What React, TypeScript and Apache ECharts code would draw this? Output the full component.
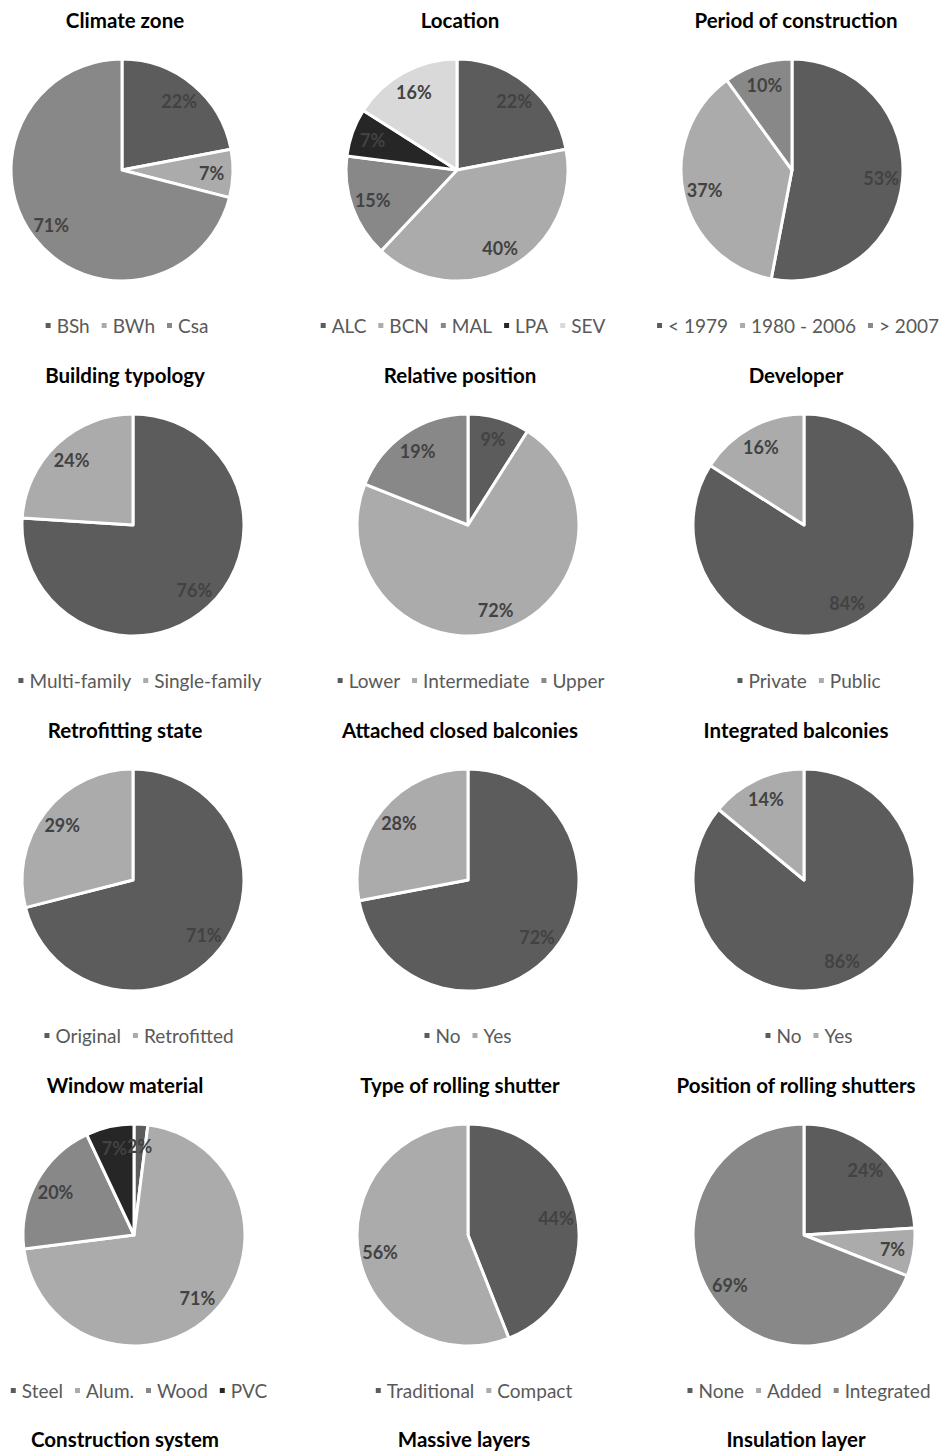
import React, { useEffect, useRef } from 'react';
import * as echarts from 'echarts';

// ---------- data ----------
const climateNames = ['BSh', 'BWh', 'Csa'];
const climateValues = [22, 7, 71];

const locationNames = ['ALC', 'BCN', 'MAL', 'LPA', 'SEV'];
const locationValues = [22, 40, 15, 7, 16];

const periodNames = ['< 1979', '1980 - 2006', '> 2007'];
const periodValues = [53, 37, 10];

const typologyNames = ['Multi-family', 'Single-family'];
const typologyValues = [76, 24];

const positionNames = ['Lower', 'Intermediate', 'Upper'];
const positionValues = [9, 72, 19];

const developerNames = ['Private', 'Public'];
const developerValues = [84, 16];

const retrofitNames = ['Original', 'Retrofitted'];
const retrofitValues = [71, 29];

const attachedNames = ['No', 'Yes'];
const attachedValues = [72, 28];

const integratedNames = ['No', 'Yes'];
const integratedValues = [86, 14];

const materialNames = ['Steel', 'Alum.', 'Wood', 'PVC'];
const materialValues = [2, 71, 20, 7];

const shutterTypeNames = ['Traditional', 'Compact'];
const shutterTypeValues = [44, 56];

const shutterPosNames = ['None', 'Added', 'Integrated'];
const shutterPosValues = [24, 7, 69];

const titles = [
  'Climate zone', 'Location', 'Period of construction',
  'Building typology', 'Relative position', 'Developer',
  'Retrofitting state', 'Attached closed balconies', 'Integrated balconies',
  'Window material', 'Type of rolling shutter', 'Position of rolling shutters',
];
const bottomTitles = ['Construction system', 'Massive layers', 'Insulation layer'];

const COLORS = ['#5c5c5c', '#ababab', '#888888', '#262626', '#d9d9d9'];
const FONT = 'Lato, "Open Sans", sans-serif';

const panels = [
  { names: climateNames, values: climateValues },
  { names: locationNames, values: locationValues },
  { names: periodNames, values: periodValues },
  { names: typologyNames, values: typologyValues },
  { names: positionNames, values: positionValues },
  { names: developerNames, values: developerValues },
  { names: retrofitNames, values: retrofitValues },
  { names: attachedNames, values: attachedValues },
  { names: integratedNames, values: integratedValues },
  { names: materialNames, values: materialValues },
  { names: shutterTypeNames, values: shutterTypeValues },
  { names: shutterPosNames, values: shutterPosValues },
];

// layout (page coordinates)
const ROW_TOP = [0, 355, 710, 1065];
const ROW_H = [355, 355, 355, 386];
const PIE_CX = [
  [122, 457, 792],
  [133, 468, 804],
  [133, 468, 804],
  [134, 468, 804],
];
const LEG_CX = [
  [126, 462, 797],
  [139, 470, 808],
  [138, 467, 808],
  [138, 473, 808],
];
const TITLE_CX = [125, 460, 796];
const BOTTOM_TITLE_CX = [125, 464, 796];
const CELL_W = 300;
const R = 111;

function Cell({ idx }: { idx: number }) {
  const ref = useRef<HTMLDivElement>(null);
  const row = Math.floor(idx / 3);
  const col = idx % 3;
  const left = LEG_CX[row][col] - CELL_W / 2;
  const top = ROW_TOP[row];
  const height = ROW_H[row];

  useEffect(() => {
    const chart = echarts.init(ref.current!, undefined, { renderer: 'svg' });
    const p = panels[idx];
    const data = p.names.map((n, i) => ({
      name: n,
      value: p.values[i],
      itemStyle: { color: COLORS[i] },
    }));
    const center = [PIE_CX[row][col] - left, 170];
    const titleStyle = {
      textAlign: 'center',
      textVerticalAlign: 'middle',
      fontSize: 20.5,
      fontWeight: 'bold',
      fontFamily: FONT,
      fill: '#000',
    };
    const graphics: any[] = [
      {
        type: 'text',
        x: TITLE_CX[col] - left,
        y: 20,
        style: { ...titleStyle, text: titles[idx] },
      },
    ];
    if (row === 3) {
      graphics.push({
        type: 'text',
        x: BOTTOM_TITLE_CX[col] - left,
        y: 1439 - top,
        style: { ...titleStyle, text: bottomTitles[col] },
      });
    }
    chart.setOption({
      animation: false,
      graphic: graphics,
      legend: {
        data: p.names,
        left: 'center',
        top: 316,
        icon: 'rect',
        itemWidth: 7,
        itemHeight: 7,
        itemGap: 10,
        padding: 0,
        textStyle: { fontSize: 19, color: '#595959', fontFamily: FONT },
      },
      series: [
        {
          type: 'pie',
          center,
          radius: [0, R],
          startAngle: 90,
          clockwise: true,
          avoidLabelOverlap: false,
          label: { show: false },
          labelLine: { show: false },
          itemStyle: { borderColor: '#ffffff', borderWidth: 3 },
          emphasis: { disabled: true },
          data,
        },
        {
          type: 'pie',
          center,
          radius: [R * 0.56, R],
          startAngle: 90,
          clockwise: true,
          silent: true,
          avoidLabelOverlap: false,
          itemStyle: { color: 'rgba(0,0,0,0)', borderWidth: 0 },
          label: {
            show: true,
            position: 'inside',
            formatter: '{c}%',
            fontSize: 18,
            fontWeight: 'bold',
            color: '#424242',
            fontFamily: FONT,
          },
          labelLine: { show: false },
          emphasis: { disabled: true },
          data: p.names.map((n, i) => ({ name: n, value: p.values[i] })),
        },
      ],
    });
    return () => chart.dispose();
  }, []);

  return (
    <div
      ref={ref}
      style={{ position: 'absolute', left, top, width: CELL_W, height }}
    />
  );
}

export default function App() {
  useEffect(() => {
    document.body.style.margin = '0';
    document.body.style.overflow = 'hidden';
  }, []);
  return (
    <div style={{ position: 'absolute', left: 0, top: 0, width: 943, height: 1451, background: '#fff', overflow: 'hidden' }}>
      {panels.map((_, i) => (
        <Cell key={i} idx={i} />
      ))}
    </div>
  );
}
